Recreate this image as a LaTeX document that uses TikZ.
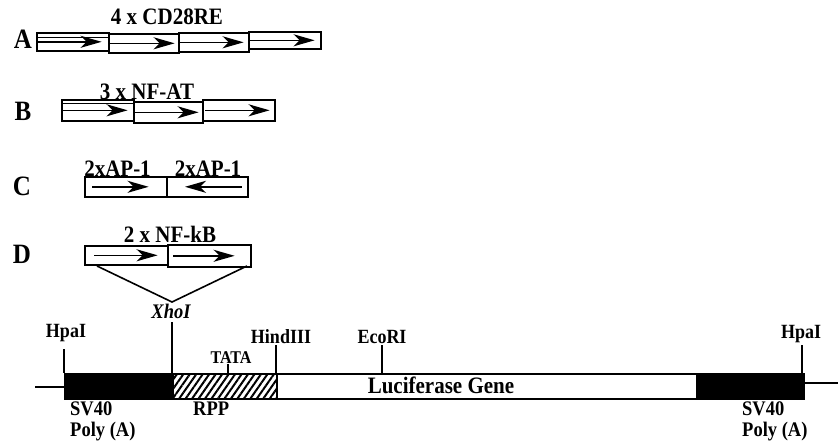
\documentclass[tikz,border=0pt]{standalone}
\usepackage{fontspec}
\setmainfont{Liberation Serif}
\usetikzlibrary{arrows.meta,patterns.meta}
\newcommand\stretchtxt[1]{\scalebox{1}[1.12]{#1}}
\begin{document}
\begin{tikzpicture}[x=1pt,y=-1pt,
  elbox/.style={draw,line width=1.6pt,inner sep=0pt,anchor=north west},
  arr/.style={line width=1.6pt,-{Stealth[length=21pt,width=12pt,inset=6pt]}},
  hdr/.style={font=\fontsize{21}{22}\selectfont\bfseries,inner sep=0pt,anchor=base},
  rowlab/.style={font=\fontsize{25}{27}\selectfont\bfseries,inner sep=0pt,anchor=base},
  site/.style={font=\fontsize{18}{19}\selectfont\bfseries,inner sep=0pt,anchor=base},
  low/.style={font=\fontsize{18.5}{20}\selectfont\bfseries,inner sep=0pt,anchor=base west},
  seg/.style={draw,line width=2pt,inner sep=0pt,anchor=north west,minimum height=25pt},
  tick/.style={line width=1.6pt},
]
\useasboundingbox (0,0) rectangle (838,442);

% ---- A
\node[rowlab] (lA) at (23,48) {\stretchtxt{A}};
\node[hdr] (hA) at (167,24) {\stretchtxt{4 x CD28RE}};
\node[elbox,minimum width=72pt,minimum height=18pt] (a1) at (36,32) {};
\node[elbox,minimum width=70pt,minimum height=19pt] (a2) at (108,33) {};
\node[elbox,minimum width=70pt,minimum height=19pt] (a3) at (178,32) {};
\node[elbox,minimum width=72pt,minimum height=17pt] (a4) at (248,31) {};
\draw[line width=0.9pt] ([yshift=-5pt]a1.north west) -- ([yshift=-5pt]a1.north east);
\draw[arr] ([xshift=1pt]a1.west) -- ([xshift=-8pt]a1.east);
\draw[arr] ([xshift=2pt]a2.west) -- ([xshift=-5pt]a2.east);
\draw[arr] ([xshift=2pt]a3.west) -- ([xshift=-6pt]a3.east);
\draw[arr] ([xshift=2pt]a4.west) -- ([xshift=-7pt]a4.east);

% ---- B
\node[rowlab] (lB) at (23,120) {\stretchtxt{B}};
\node[hdr] (hB) at (147,99) {\stretchtxt{3 x NF-AT}};
\node[elbox,minimum width=72pt,minimum height=21pt] (b1) at (61,99) {};
\node[elbox,minimum width=69pt,minimum height=21pt] (b2) at (133,101) {};
\node[elbox,minimum width=72pt,minimum height=21pt] (b3) at (202,99) {};
\draw[line width=0.9pt] ([yshift=-4pt]b1.north west) -- ([yshift=-4pt]b1.north east);
\draw[arr] ([xshift=1pt]b1.west) -- ([xshift=-7pt]b1.east);
\draw[arr] ([xshift=2pt]b2.west) -- ([xshift=-5pt]b2.east);
\draw[arr] ([xshift=3pt]b3.west) -- ([xshift=-6pt]b3.east);

% ---- C
\node[rowlab] (lC) at (22,195) {\stretchtxt{C}};
\node[hdr] (hC1) at (117.5,176) {\stretchtxt{2xAP-1}};
\node[hdr] (hC2) at (208,176) {\stretchtxt{2xAP-1}};
\node[elbox,minimum width=82pt,minimum height=20pt] (c1) at (84,176) {};
\node[elbox,minimum width=81pt,minimum height=20pt] (c2) at (166,176) {};
\draw[arr] ([xshift=8pt]c1.west) -- ([xshift=-19pt]c1.east);
\draw[arr] ([xshift=-7pt]c2.east) -- ([xshift=19pt]c2.west);

% ---- D
\node[rowlab] (lD) at (22,263) {\stretchtxt{D}};
\node[hdr] (hD) at (170,242) {\stretchtxt{2 x NF-kB}};
\node[elbox,minimum width=83pt,minimum height=19pt] (d1) at (84,245) {};
\node[elbox,minimum width=83pt,minimum height=22pt] (d2) at (167,244) {};
\draw[arr] ([xshift=10pt]d1.west) -- ([xshift=-11pt]d1.east);
\draw[arr] ([xshift=6pt]d2.west) -- ([xshift=-17pt]d2.east);

% ---- insertion V
\coordinate (vl) at (97,266);
\coordinate (vapex) at (172,302);
\coordinate (vr) at (247,266);
\draw[line width=1.6pt] (vl) -- (vapex) -- (vr);

% ---- construct bar
\node[seg,fill=black,minimum width=108pt] (sv1) at (64,373) {};
\node[seg,pattern={Lines[angle=55,distance=5.3pt,line width=2pt]},minimum width=104pt] (rpp) at (172,373) {};
\node[seg,minimum width=420pt] (luc) at (276,373) {};
\node[seg,fill=black,minimum width=107pt] (sv2) at (696,373) {};
\node[font=\fontsize{21}{22}\selectfont\bfseries,inner sep=0pt,anchor=base] (luctext) at (441,393) {\stretchtxt{Luciferase Gene}};

\coordinate (lend) at (35,387);
\coordinate (rend) at (838,383);
\draw[line width=1.6pt] (lend) -- (lend -| sv1.west);
\draw[line width=1.6pt] (rend) -- (rend -| sv2.east);

% ---- sites
\node[site] (hpa1) at (66,337) {\stretchtxt{HpaI}};
\coordinate (t1) at (64,349);
\draw[tick] (t1) -- (t1 |- sv1.north);

\node[site,font=\fontsize{18.5}{20}\selectfont\bfseries\itshape] (xho) at (171,318) {\stretchtxt{XhoI}};
\coordinate (t2) at (172,322);
\draw[tick] (t2) -- (t2 |- sv1.north);

\node[site,font=\fontsize{16}{17}\selectfont\bfseries] (tata) at (231,363) {\stretchtxt{TATA}};
\coordinate (t3) at (228,364);
\draw[tick] (t3) -- (t3 |- rpp.north);

\node[site] (hind) at (281,343) {\stretchtxt{HindIII}};
\coordinate (t4) at (276,345);
\draw[tick] (t4) -- (t4 |- rpp.north);

\node[site] (eco) at (382,343) {\stretchtxt{EcoRI}};
\coordinate (t5) at (382,345);
\draw[tick] (t5) -- (t5 |- luc.north);

\node[site] (hpa2) at (801,338) {\stretchtxt{HpaI}};
\coordinate (t6) at (802,345);
\draw[tick] (t6) -- (t6 |- sv2.north);

% ---- lower labels
\node[low] (sv40a) at (70,415.5) {\stretchtxt{SV40}};
\node[low] (polya) at (70,436.5) {\stretchtxt{Poly (A)}};
\node[low] (rpptext) at (193,415.5) {\stretchtxt{RPP}};
\node[low] (sv40b) at (742,415.5) {\stretchtxt{SV40}};
\node[low] (polyb) at (742,436.5) {\stretchtxt{Poly (A)}};
\end{tikzpicture}
\end{document}
